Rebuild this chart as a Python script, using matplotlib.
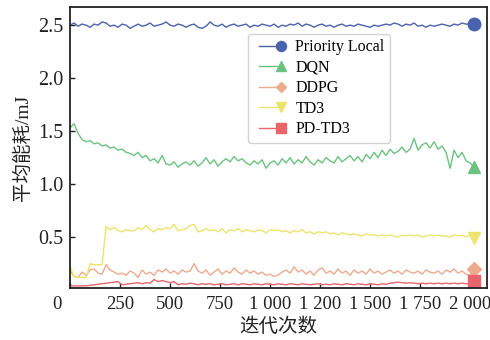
import numpy as np
import matplotlib
matplotlib.use("Agg")
import matplotlib.pyplot as plt
import matplotlib.transforms as mtransforms
from matplotlib.legend_handler import HandlerLine2D

plt.rcParams['font.family'] = ['Liberation Serif', 'Noto Sans CJK SC', 'DejaVu Sans']
plt.rcParams['axes.unicode_minus'] = False

# iteration index (sampled every 20 iterations)
iterations = np.arange(0, 2021, 20)

priority_local = [
    2.50, 2.52, 2.49, 2.51, 2.50, 2.48, 2.51, 2.50, 2.53, 2.52,
    2.49, 2.50, 2.48, 2.51, 2.50, 2.47, 2.49, 2.51, 2.49, 2.50,
    2.52, 2.49, 2.50, 2.51, 2.53, 2.50, 2.49, 2.51, 2.50, 2.48,
    2.50, 2.51, 2.48, 2.47, 2.49, 2.53, 2.50, 2.49, 2.51, 2.48,
    2.50, 2.51, 2.49, 2.50, 2.51, 2.48, 2.50, 2.49, 2.51, 2.50,
    2.49, 2.51, 2.48, 2.50, 2.49, 2.51, 2.50, 2.52, 2.49, 2.51,
    2.50, 2.48, 2.50, 2.51, 2.49, 2.50, 2.48, 2.50, 2.51, 2.49,
    2.50, 2.49, 2.51, 2.50, 2.49, 2.48, 2.50, 2.49, 2.50, 2.51,
    2.50, 2.52, 2.51, 2.49, 2.51, 2.50, 2.52, 2.49, 2.50, 2.48,
    2.50, 2.49, 2.50, 2.51, 2.50, 2.49, 2.51, 2.50, 2.52, 2.51,
    2.51, 2.51,
]

dqn = [
    1.53, 1.57, 1.48, 1.42, 1.40, 1.41, 1.38, 1.39, 1.36, 1.37,
    1.34, 1.35, 1.32, 1.33, 1.30, 1.29, 1.27, 1.30, 1.25, 1.27,
    1.22, 1.24, 1.20, 1.27, 1.19, 1.18, 1.21, 1.16, 1.19, 1.21,
    1.18, 1.22, 1.17, 1.20, 1.25, 1.19, 1.23, 1.17, 1.21, 1.24,
    1.21, 1.26, 1.22, 1.24, 1.20, 1.18, 1.22, 1.19, 1.23, 1.15,
    1.20, 1.22, 1.18, 1.24, 1.20, 1.25, 1.19, 1.23, 1.20, 1.26,
    1.21, 1.18, 1.23, 1.20, 1.25, 1.22, 1.20, 1.26, 1.21, 1.24,
    1.27, 1.22, 1.26, 1.21, 1.28, 1.24, 1.30, 1.25, 1.32, 1.27,
    1.33, 1.29, 1.31, 1.35, 1.30, 1.33, 1.43, 1.32, 1.37, 1.39,
    1.34, 1.40, 1.33, 1.36, 1.30, 1.15, 1.32, 1.25, 1.30, 1.22,
    1.20, 1.16,
]

ddpg = [
    0.18, 0.13, 0.12, 0.17, 0.14, 0.19, 0.20, 0.16, 0.15, 0.24,
    0.19, 0.17, 0.15, 0.16, 0.14, 0.18, 0.16, 0.12, 0.19, 0.15,
    0.17, 0.14, 0.19, 0.17, 0.20, 0.16, 0.18, 0.15, 0.19, 0.17,
    0.18, 0.25, 0.18, 0.16, 0.19, 0.14, 0.17, 0.20, 0.15, 0.18,
    0.16, 0.21, 0.17, 0.15, 0.19, 0.16, 0.18, 0.15, 0.17, 0.14,
    0.15, 0.13, 0.14, 0.17, 0.19, 0.16, 0.22, 0.17, 0.19, 0.15,
    0.18, 0.14, 0.19, 0.21, 0.16, 0.18, 0.15, 0.20, 0.16, 0.18,
    0.14, 0.19, 0.16, 0.18, 0.15, 0.20, 0.16, 0.18, 0.15, 0.17,
    0.19, 0.16, 0.18, 0.15, 0.19, 0.17, 0.16, 0.18, 0.15, 0.19,
    0.17, 0.16, 0.18, 0.15, 0.19, 0.17, 0.20, 0.16, 0.18, 0.15,
    0.14, 0.20,
]

td3 = [
    0.22, 0.13, 0.12, 0.12, 0.12, 0.25, 0.24, 0.24, 0.24, 0.60,
    0.57, 0.59, 0.56, 0.55, 0.57, 0.56, 0.56, 0.59, 0.57, 0.61,
    0.57, 0.55, 0.58, 0.57, 0.59, 0.58, 0.62, 0.56, 0.57, 0.58,
    0.61, 0.62, 0.55, 0.56, 0.58, 0.56, 0.57, 0.55, 0.58, 0.54,
    0.57, 0.56, 0.58, 0.55, 0.57, 0.56, 0.55, 0.57, 0.56, 0.54,
    0.57, 0.56, 0.57, 0.55, 0.56, 0.54, 0.56, 0.55, 0.57, 0.54,
    0.55, 0.53, 0.55, 0.54, 0.55, 0.53, 0.54, 0.52, 0.54, 0.53,
    0.52, 0.53, 0.52, 0.51, 0.53, 0.52, 0.52, 0.51, 0.52, 0.51,
    0.52, 0.51, 0.50, 0.52, 0.51, 0.52, 0.51, 0.52, 0.50, 0.51,
    0.52, 0.51, 0.52, 0.51, 0.51, 0.50, 0.52, 0.51, 0.52, 0.50,
    0.52, 0.49,
]

pd_td3 = [
    0.040, 0.040, 0.040, 0.040, 0.040, 0.045, 0.050, 0.055, 0.060, 0.065,
    0.070, 0.075, 0.080, 0.050, 0.055, 0.060, 0.065, 0.070, 0.060, 0.070,
    0.065, 0.100, 0.080, 0.090, 0.080, 0.070, 0.080, 0.050, 0.060, 0.055,
    0.065, 0.060, 0.050, 0.060, 0.055, 0.060, 0.050, 0.055, 0.060, 0.050,
    0.055, 0.060, 0.050, 0.060, 0.055, 0.050, 0.060, 0.055, 0.050, 0.060,
    0.055, 0.050, 0.060, 0.055, 0.050, 0.060, 0.055, 0.050, 0.060, 0.055,
    0.050, 0.055, 0.060, 0.050, 0.055, 0.050, 0.060, 0.055, 0.050, 0.060,
    0.055, 0.050, 0.060, 0.055, 0.050, 0.060, 0.055, 0.050, 0.060, 0.055,
    0.065, 0.070, 0.075, 0.070, 0.065, 0.070, 0.065, 0.060, 0.065, 0.060,
    0.065, 0.060, 0.065, 0.060, 0.065, 0.060, 0.065, 0.060, 0.065, 0.060,
    0.060, 0.085,
]

series_names = ["Priority Local", "DQN", "DDPG", "TD3", "PD-TD3"]
series_values = [priority_local, dqn, ddpg, td3, pd_td3]
colors = ["#4862ae", "#6cc27f", "#eeaa8d", "#ece46d", "#e6646a"]
markers = ["o", "^", "D", "v", "s"]
marker_sizes = [9, 9, 7, 9, 8.5]

xtick_pos = [0, 250, 500, 750, 1000, 1250, 1500, 1750, 2000]
xtick_labels = ["0", "250", "500", "750", "1 000", "1 200", "1 500", "1 750", "2 000"]
ytick_pos = [0.5, 1.0, 1.5, 2.0, 2.5]


class EndMarkerHandler(HandlerLine2D):
    """Legend entry: a line with a slightly smaller marker only at its right end."""
    def create_artists(self, *args, **kwargs):
        artists = super().create_artists(*args, **kwargs)
        for a in artists:
            a.set_markevery([-1])
            a.set_markersize(a.get_markersize() * 0.8)
        return artists


fig = plt.figure(figsize=(4.9, 3.4), dpi=100)
ax = fig.add_axes([0.143, 0.153, 0.851, 0.826])

for name, vals, c, m, ms in zip(series_names, series_values, colors, markers, marker_sizes):
    ax.plot(iterations, vals, color=c, lw=1.0, marker=m, markersize=ms,
            markevery=[-1], label=name)

ax.set_xlim(0, 2085)
ax.set_ylim(0.02, 2.67)
ax.set_xticks(xtick_pos)
ax.set_xticklabels(xtick_labels)
ax.set_yticks(ytick_pos)
ax.tick_params(direction="in", length=3.5, width=1.0, colors="#222222",
               labelcolor="#222222")
ax.tick_params(axis="x", pad=6, labelsize=13.5)
ax.tick_params(axis="y", pad=5, labelsize=14.5)

# nudge the "0" label to the left of its tick
lbl0 = ax.get_xticklabels()[0]
lbl0.set_horizontalalignment("right")
lbl0.set_transform(lbl0.get_transform() + mtransforms.ScaledTranslation(-6 / 72, 0, fig.dpi_scale_trans))

for sp in ax.spines.values():
    sp.set_linewidth(1.3)
    sp.set_color("#222222")

ax.set_xlabel("迭代次数", fontsize=14, color="#222222", labelpad=3)
ax.set_ylabel("平均能耗/mJ", fontsize=14, color="#222222", labelpad=4)

leg = ax.legend(loc="upper left", bbox_to_anchor=(0.427, 0.905), numpoints=2,
                handler_map={matplotlib.lines.Line2D: EndMarkerHandler(numpoints=2)},
                fontsize=11.5, frameon=True, edgecolor="#c8c8c8", fancybox=True,
                handlelength=2.0, handletextpad=0.6, labelspacing=0.28,
                borderpad=0.35, borderaxespad=0.0)
leg.get_frame().set_linewidth(1.0)

fig.savefig("out.png", dpi=100)
